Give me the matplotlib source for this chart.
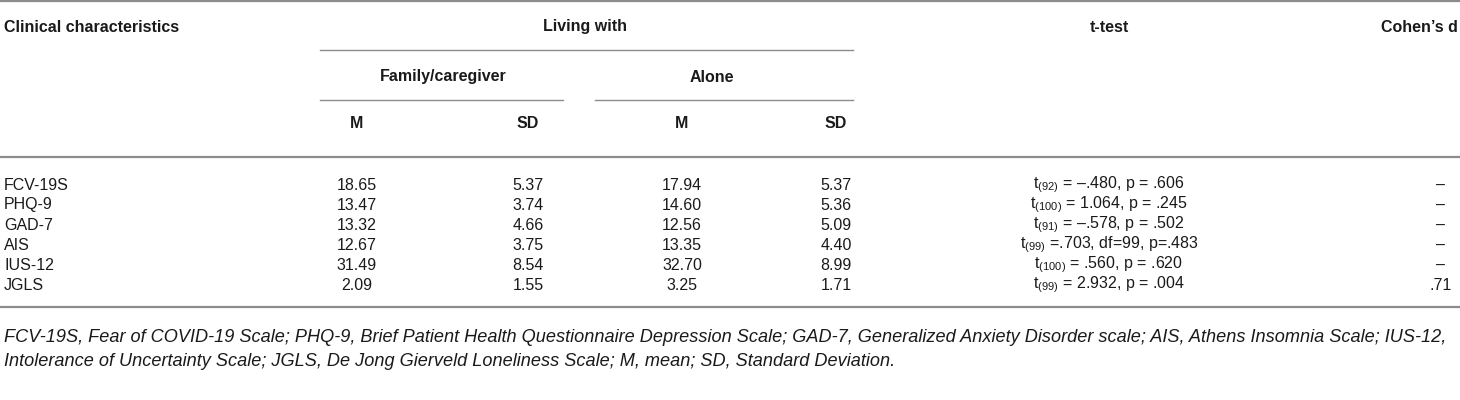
import matplotlib.pyplot as plt
from matplotlib import font_manager

# table contents
scales = ['FCV-19S', 'PHQ-9', 'GAD-7', 'AIS', 'IUS-12', 'JGLS']
family_m = ['18.65', '13.47', '13.32', '12.67', '31.49', '2.09']
family_sd = ['5.37', '3.74', '4.66', '3.75', '8.54', '1.55']
alone_m = ['17.94', '14.60', '12.56', '13.35', '32.70', '3.25']
alone_sd = ['5.37', '5.36', '5.09', '4.40', '8.99', '1.71']
t_df = ['92', '100', '91', '99', '100', '99']
t_rest = ['= \u2013.480, p = .606', '= 1.064, p = .245', '= \u2013.578, p = .502',
          '=.703, df=99, p=.483', '= .560, p = .620', '= 2.932, p = .004']
cohens_d = ['\u2013', '\u2013', '\u2013', '\u2013', '\u2013', '.71']
note = ["FCV-19S, Fear of COVID-19 Scale; PHQ-9, Brief Patient Health Questionnaire Depression Scale; "
        "GAD-7, Generalized Anxiety Disorder scale; AIS, Athens Insomnia Scale; IUS-12,",
        "Intolerance of Uncertainty Scale; JGLS, De Jong Gierveld Loneliness Scale; M, mean; SD, Standard Deviation."]

names = {f.name for f in font_manager.fontManager.ttflist}
fam = 'Liberation Sans Narrow' if 'Liberation Sans Narrow' in names else 'Liberation Sans'
plt.rcParams['font.family'] = [fam, 'DejaVu Sans']
plt.rcParams['mathtext.fontset'] = 'custom'
plt.rcParams['mathtext.rm'] = fam
plt.rcParams['mathtext.it'] = fam + ':italic'

fig = plt.figure(figsize=(14.6, 4), dpi=100)
ax = fig.add_axes([0, 0, 1, 1])
ax.set_xlim(0, 1460)
ax.set_ylim(400, 0)
ax.axis('off')

txt = '#1a1a1a'
line_c = '#8c8c8c'
hs = 11.5
ds = 11.5

# rules
ax.plot([0, 1460], [1, 1], color=line_c, lw=1.6)
ax.plot([320, 853], [50, 50], color=line_c, lw=1)
ax.plot([320, 563], [100, 100], color=line_c, lw=1)
ax.plot([595, 853], [100, 100], color=line_c, lw=1)
ax.plot([0, 1460], [157, 157], color=line_c, lw=1.6)
ax.plot([0, 1460], [307, 307], color=line_c, lw=1.6)

# header
ax.text(4, 27, 'Clinical characteristics', fontsize=hs, fontweight='bold', va='center', color=txt)
ax.text(585, 27, 'Living with', fontsize=hs, fontweight='bold', va='center', ha='center', color=txt)
ax.text(1109, 27, 't-test', fontsize=hs, fontweight='bold', va='center', ha='center', color=txt)
ax.text(1458, 27, 'Cohen\u2019s d', fontsize=hs, fontweight='bold', va='center', ha='right', color=txt)
ax.text(443, 77, 'Family/caregiver', fontsize=hs, fontweight='bold', va='center', ha='center', color=txt)
ax.text(712, 77, 'Alone', fontsize=hs, fontweight='bold', va='center', ha='center', color=txt)
col_x = [357, 528, 682, 836]
for x, lab in zip(col_x, ['M', 'SD', 'M', 'SD']):
    ax.text(x, 123, lab, fontsize=hs, fontweight='bold', va='center', ha='center', color=txt)

# body
for i, name in enumerate(scales):
    y = 185 + 20 * i
    ax.text(4, y, name, fontsize=ds, va='center', color=txt)
    for x, col in zip(col_x, [family_m, family_sd, alone_m, alone_sd]):
        ax.text(x, y, col[i], fontsize=ds, va='center', ha='center', color=txt)
    ax.text(1109, y, 't$_{(' + t_df[i] + ')}$ ' + t_rest[i], fontsize=ds,
            va='center', ha='center', color=txt)
    ax.text(1441, y, cohens_d[i], fontsize=ds, va='center', ha='center', color=txt)

# footnote
for j, line in enumerate(note):
    ax.text(4, 337 + 25 * j, line, fontsize=13.1, style='italic', va='center', color=txt)

fig.savefig('out.png', dpi=100)
